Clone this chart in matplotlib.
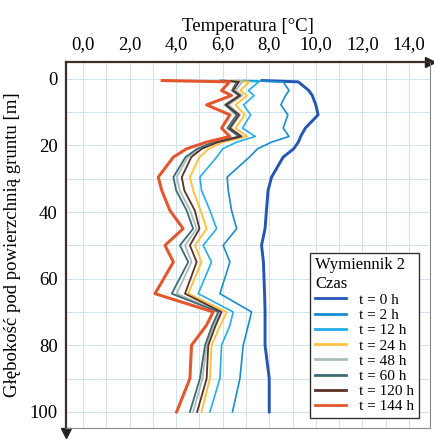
import matplotlib.pyplot as plt

plt.rcParams['font.family'] = ['Liberation Serif', 'DejaVu Serif']

# depth [m] of measurement points, shared by all series
depth = [0.5, 0.9, 3.5, 5, 7.8, 10.8, 14.8, 17.3, 19, 21, 23.5, 29.5, 33.5,
         39.5, 45, 50, 55, 64.5, 70, 74, 80, 90, 100]

# temperature [C] per time step
t0 = [7.7, 9.25, 9.7, 9.85, 10.0, 10.1, 9.55, 9.35, 9.25, 9.05, 8.6, 8.1, 7.95,
      7.88, 7.82, 7.67, 7.75, 7.8, 7.82, 7.82, 7.82, 8.0, 8.0]
t2 = [6.9, 8.6, 8.85, 8.7, 8.5, 8.8, 8.6, 8.85, 8.1, 7.5, 7.15, 6.19, 6.24,
      6.38, 6.6, 6.02, 6.31, 5.88, 7.24, 7.1, 6.88, 6.74, 6.42]
t12 = [6.6, 7.55, 7.1, 7.35, 6.9, 7.2, 6.85, 7.4, 6.6, 6.0, 5.74, 5.02, 5.09,
       5.45, 5.74, 5.16, 5.52, 4.95, 6.45, 6.31, 5.95, 5.88, 5.45]
t24 = [6.3, 7.15, 6.75, 7.05, 6.55, 6.95, 6.55, 7.05, 6.0, 5.4, 5.0, 4.59, 4.73,
       5.05, 5.31, 4.81, 5.09, 4.52, 6.17, 5.9, 5.52, 5.45, 5.09]
t48 = [6.1, 6.85, 6.55, 6.85, 6.25, 6.75, 6.35, 6.85, 5.7, 5.0, 4.5, 4.02, 4.15,
       4.6, 4.88, 4.38, 4.66, 4.02, 5.88, 5.62, 5.31, 5.13, 4.73]
t60 = [5.9, 6.6, 6.4, 6.7, 6.1, 6.6, 6.2, 6.7, 5.6, 4.9, 4.4, 3.88, 4.0,
       4.45, 4.73, 4.16, 4.52, 3.81, 5.81, 5.55, 5.24, 5.02, 4.59]
t120 = [6.0, 6.7, 6.45, 6.75, 6.15, 6.7, 6.3, 6.8, 5.8, 5.1, 4.65, 4.24, 4.35,
        4.8, 5.0, 4.59, 4.88, 4.38, 5.95, 5.7, 5.38, 5.31, 4.9]
t144 = [3.4, 6.3, 5.95, 6.38, 5.31, 6.31, 5.95, 6.31, 5.3, 4.45, 3.88, 3.23, 3.38,
        3.73, 4.3, 3.52, 3.88, 3.09, 5.59, 5.3, 4.66, 4.59, 4.02]

labels = ["t = 0 h", "t = 2 h", "t = 12 h", "t = 24 h", "t = 48 h", "t = 60 h",
          "t = 120 h", "t = 144 h"]
series = [t0, t2, t12, t24, t48, t60, t120, t144]
colors = ['#2456b5', '#1a8ccc', '#22aee8', '#fcc341', '#a9bcbc', '#3e6b73',
          '#5b3128', '#e4572e']
widths = [2.1, 1.2, 1.2, 1.4, 1.3, 1.3, 1.3, 2.2]

xticks = [0, 2, 4, 6, 8, 10, 12, 14]
xticklabels = ["0,0", "2,0", "4,0", "6,0", "8,0", "10,0", "12,0", "14,0"]
yticks = [0, 20, 40, 60, 80, 100]

fig = plt.figure(figsize=(4.35, 4.42), dpi=100)
ax = fig.add_axes([0.152, 0.032, 0.836, 0.828])

for vals, lab, c, lw in zip(series, labels, colors, widths):
    ax.plot(vals, depth, color=c, lw=lw, label=lab)

ax.set_xlim(-0.73, 14.9)
ax.set_ylim(104.8, -5.1)
ax.xaxis.tick_top()
ax.xaxis.set_label_position('top')
ax.set_xticks(xticks)
ax.set_xticklabels(xticklabels)
ax.set_yticks(yticks)
ax.tick_params(length=0, labelsize=13.5, pad=6)
ax.set_xlabel("Temperatura [°C]", fontsize=13.5, labelpad=4)
ax.set_ylabel("Głębokość pod powierzchnią gruntu [m]", fontsize=13.5, labelpad=6)

# light grid: every 1 C and every 10 m
ax.set_xticks(range(0, 15), minor=True)
ax.set_yticks(range(0, 101, 10), minor=True)
ax.tick_params(which='minor', length=0)
ax.grid(which='both', color='#cfe4f0', lw=0.7)
ax.set_axisbelow(True)

for s in ['top', 'left']:
    ax.spines[s].set_color('#3a302c')
    ax.spines[s].set_linewidth(1.6)
for s in ['right', 'bottom']:
    ax.spines[s].set_color('#8a8a8a')
    ax.spines[s].set_linewidth(0.8)

# arrow heads of the axes
ax.plot(1.0, 1.0, '>', color='#222222', ms=7, transform=ax.transAxes, clip_on=False)
ax.plot(0.0, -0.015, 'v', color='#222222', ms=7, transform=ax.transAxes, clip_on=False)

leg = ax.legend(title="Wymiennik 2\nCzas", loc='lower right',
                bbox_to_anchor=(0.97, 0.027), borderaxespad=0, fontsize=11,
                title_fontsize=12, labelspacing=0.1, handlelength=2.0,
                handletextpad=0.9, borderpad=0.3,
                fancybox=False, edgecolor='#333333', framealpha=1)
leg._legend_box.align = 'left'
leg.get_frame().set_linewidth(1.0)
for h in leg.get_lines():
    h.set_linewidth(2.0)

plt.savefig("out.png", dpi=100)
